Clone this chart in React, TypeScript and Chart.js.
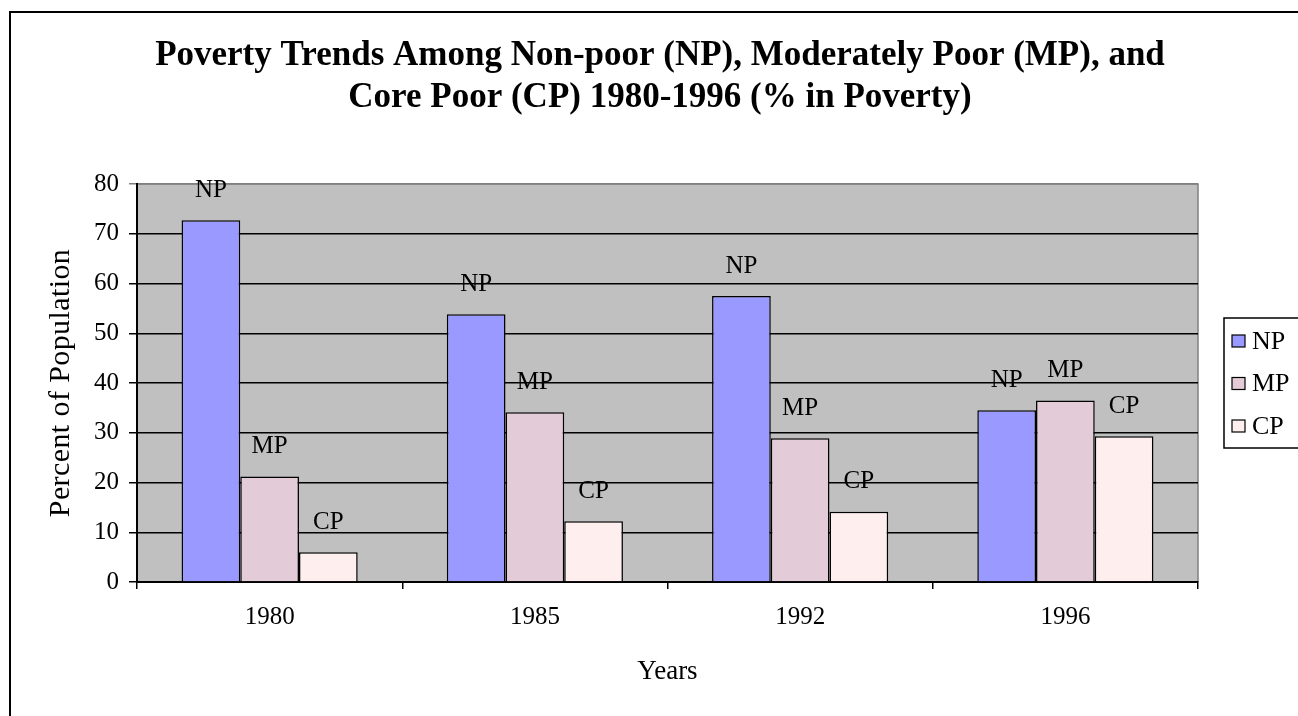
import React, { useEffect, useRef } from "react";
import { Chart, registerables } from "chart.js";

Chart.register(...registerables);

const years = ["1980", "1985", "1992", "1996"];
const seriesNames = ["NP", "MP", "CP"];
const npValues = [72.7, 53.8, 57.5, 34.5];
const mpValues = [21.2, 34.1, 28.9, 36.5];
const cpValues = [6.0, 12.2, 14.1, 29.3];
const seriesColors = ["#9999FF", "#E4CBD8", "#FFEEEE"];
const yTicks = [0, 10, 20, 30, 40, 50, 60, 70, 80];
const titleLines = [
  "Poverty Trends Among Non-poor (NP), Moderately Poor (MP), and",
  "Core Poor (CP) 1980-1996 (% in Poverty)",
];
const yTitle = "Percent of Population";
const xTitle = "Years";

const SERIF = "'Liberation Serif', 'Times New Roman', 'DejaVu Serif', serif";

const decorPlugin = {
  id: "decor",
  beforeDraw(chart: any) {
    const { ctx, chartArea } = chart;
    ctx.save();
    ctx.fillStyle = "#ffffff";
    ctx.fillRect(0, 0, chart.width, chart.height);
    ctx.fillStyle = "#C0C0C0";
    ctx.fillRect(chartArea.left, chartArea.top, chartArea.right - chartArea.left, chartArea.bottom - chartArea.top);
    ctx.strokeStyle = "#808080";
    ctx.lineWidth = 1.5;
    ctx.beginPath();
    ctx.moveTo(chartArea.left, chartArea.top);
    ctx.lineTo(chartArea.right, chartArea.top);
    ctx.lineTo(chartArea.right, chartArea.bottom);
    ctx.stroke();
    ctx.restore();
  },
  afterDraw(chart: any) {
    const { ctx, chartArea } = chart;
    ctx.save();
    // outer frame
    ctx.strokeStyle = "#000";
    ctx.lineWidth = 2;
    ctx.beginPath();
    ctx.moveTo(10, chart.height + 2);
    ctx.lineTo(10, 12);
    ctx.lineTo(chart.width + 2, 12);
    ctx.stroke();

    // title
    ctx.fillStyle = "#000";
    ctx.textAlign = "center";
    ctx.textBaseline = "alphabetic";
    ctx.font = `bold 35px ${SERIF}`;
    ctx.fillText(titleLines[0], 660, 65);
    ctx.fillText(titleLines[1], 660, 107);

    // axis titles
    ctx.font = `27px ${SERIF}`;
    ctx.fillText(xTitle, (chartArea.left + chartArea.right) / 2, 679);
    ctx.save();
    ctx.translate(61, (chartArea.top + chartArea.bottom) / 2);
    ctx.rotate(-Math.PI / 2);
    ctx.textBaseline = "middle";
    ctx.font = `30px ${SERIF}`;
    (ctx as any).letterSpacing = "0.4px";
    ctx.fillText(yTitle, 0, 0);
    (ctx as any).letterSpacing = "0px";
    ctx.restore();

    // data labels
    ctx.textBaseline = "middle";
    ctx.font = `25px ${SERIF}`;
    chart.data.datasets.forEach((ds: any, di: number) => {
      const meta = chart.getDatasetMeta(di);
      meta.data.forEach((bar: any) => {
        ctx.fillText(ds.label, bar.x, bar.y - 30);
      });
    });

    // legend
    const lx = 1224, ly = 318, lw = 80, lh = 130;
    ctx.fillStyle = "#fff";
    ctx.fillRect(lx, ly, lw, lh);
    ctx.strokeStyle = "#000";
    ctx.lineWidth = 1.5;
    ctx.strokeRect(lx, ly, lw, lh);
    ctx.textAlign = "left";
    ctx.font = `26px ${SERIF}`;
    seriesNames.forEach((name, i) => {
      const cy = 341 + i * 42.5;
      ctx.fillStyle = seriesColors[i];
      ctx.fillRect(1232, cy - 6, 13, 12);
      ctx.strokeStyle = "#000";
      ctx.lineWidth = 1.2;
      ctx.strokeRect(1232, cy - 6, 13, 12);
      ctx.fillStyle = "#000";
      ctx.fillText(name, 1252, cy + 1);
    });
    ctx.restore();
  },
};

export default function App() {
  const ref = useRef<HTMLCanvasElement>(null);
  useEffect(() => {
    if (!ref.current) return;
    const allValues = [npValues, mpValues, cpValues];
    const chart = new Chart(ref.current, {
      type: "bar",
      data: {
        labels: years,
        datasets: seriesNames.map((name, i) => ({
          label: name,
          data: allValues[i],
          backgroundColor: seriesColors[i],
          borderColor: "#000",
          borderWidth: 1.5,
          barPercentage: 1,
          categoryPercentage: 0.664,
        })),
      },
      options: {
        animation: false,
        responsive: false,
        devicePixelRatio: 1,
        layout: { padding: { left: 77, top: 184, right: 100, bottom: 74 } },
        plugins: { legend: { display: false }, title: { display: false }, tooltip: { enabled: false } },
        scales: {
          x: {
            afterFit: (s: any) => { s.height = 60; },
            grid: { display: true, drawOnChartArea: false, drawTicks: true, tickLength: 7, color: "#000", lineWidth: 1.5, offset: true },
            border: { display: true, color: "#000", width: 2 },
            ticks: { color: "#000", font: { family: SERIF, size: 25 }, padding: 13 },
          },
          y: {
            min: 0,
            max: 80,
            afterFit: (s: any) => { s.width = 60; },
            afterBuildTicks: (s: any) => { s.ticks = yTicks.map((v) => ({ value: v })); },
            grid: {
              color: (c: any) => (c.tick && c.tick.value === 80 ? "#808080" : "#000"),
              lineWidth: 1.5,
              tickLength: 8,
            },
            border: { display: true, color: "#000", width: 2 },
            ticks: { color: "#000", font: { family: SERIF, size: 25 }, padding: 10 },
          },
        },
      },
      plugins: [decorPlugin],
    });
    return () => chart.destroy();
  }, []);
  return (
    <canvas
      ref={ref}
      width={1298}
      height={716}
      style={{ position: "fixed", left: 0, top: 0, width: 1298, height: 716 }}
    />
  );
}
